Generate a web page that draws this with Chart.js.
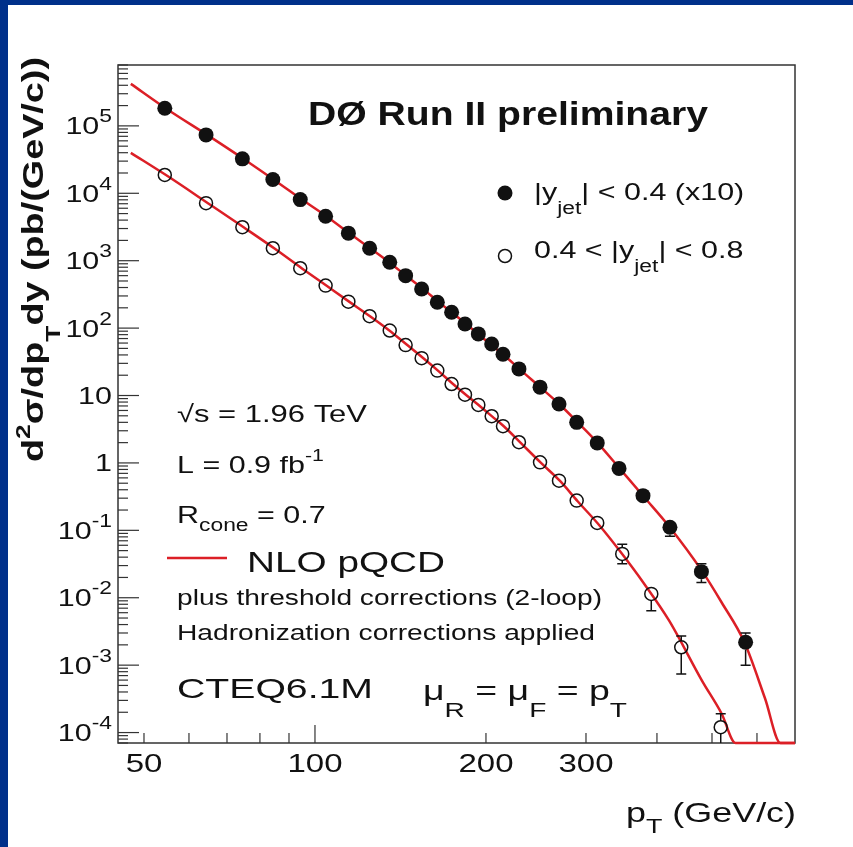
<!DOCTYPE html>
<html>
<head>
<meta charset="utf-8">
<script src="https://cdn.jsdelivr.net/npm/chart.js@4.4.1/dist/chart.umd.min.js"></script>
<style>
    html, body { margin: 0; padding: 0; background: #ffffff; }
    canvas { display: block; }
</style>
</head>
<body>
<canvas id="jetChart" width="853" height="847"></canvas>
<script>

/* ==========================================
        DATA
========================================== */

// |y_jet| < 0.4 (multiplied by 10)
const centralPt = [54.4, 64.3, 74.5, 84.3, 94.2, 104.4, 114.5, 124.8, 135.4, 144.4, 154.1, 164.2, 174.0, 183.7, 193.9, 204.7, 214.3, 228.6, 249.0, 268.9, 288.9, 314.0, 343.0, 378.0, 421.6, 479.0, 573.0];
const centralXsec = [1.83e5, 7.35e4, 3.24e4, 1.6e4, 8.06e3, 4.57e3, 2.56e3, 1.53e3, 950, 600, 380, 242, 172, 115, 82, 58, 41, 24.8, 13.3, 7.5, 4.0, 1.98, 0.83, 0.327, 0.111, 0.0244, 0.00219];
const centralErrLo = [null, null, null, null, null, null, null, null, null, null, null, null, null, null, null, null, null, null, null, null, null, null, null, null, 0.082, 0.0168, 0.0010];
const centralErrHi = [null, null, null, null, null, null, null, null, null, null, null, null, null, null, null, null, null, null, null, null, null, null, null, null, 0.14, 0.032, 0.0030];

// 0.4 < |y_jet| < 0.8
const forwardPt = [54.4, 64.3, 74.5, 84.3, 94.2, 104.4, 114.5, 124.8, 135.4, 144.4, 154.1, 164.2, 174.0, 183.7, 193.9, 204.7, 214.3, 228.6, 249.0, 268.9, 288.9, 314.0, 347.5, 390.9, 441.4, 518.0];
const forwardXsec = [1.87e4, 7.13e3, 3.14e3, 1.53e3, 774, 427, 247, 150, 92, 56, 35.8, 23.4, 14.8, 10.3, 7.26, 4.93, 3.51, 2.03, 1.02, 0.546, 0.276, 0.129, 0.0447, 0.0114, 0.00184, 1.2e-4];
const forwardErrLo = [null, null, null, null, null, null, null, null, null, null, null, null, null, null, null, null, null, null, null, null, null, null, 0.032, 0.0064, 0.00074, 3e-5];
const forwardErrHi = [null, null, null, null, null, null, null, null, null, null, null, null, null, null, null, null, null, null, null, null, null, null, 0.062, 0.0140, 0.0027, 1.9e-4];

// NLO pQCD curves
const nloCentralPt = [47.4, 55, 65, 75, 85, 95, 105, 115, 125, 135, 145, 155, 165, 175, 185, 195, 205, 215, 230, 250, 270, 290, 315, 345, 380, 420, 480, 520, 570, 620, 660, 700];
const nloCentralXsec = [4.2e5, 1.75e5, 7.1e4, 3.2e4, 1.55e4, 8.0e3, 4.5e3, 2.55e3, 1.53e3, 950, 590, 380, 245, 165, 113, 78, 55, 40, 24, 13, 7.3, 4.0, 1.95, 0.80, 0.31, 0.115, 0.025, 0.0085, 0.0022, 3.2e-4, 7e-5, 7e-5];
const nloForwardPt = [47.4, 55, 65, 75, 85, 95, 105, 115, 125, 135, 145, 155, 165, 175, 185, 195, 205, 215, 230, 250, 270, 290, 315, 345, 380, 420, 480, 520, 550, 700];
const nloForwardXsec = [3.98e4, 1.8e4, 7.0e3, 3.1e3, 1.5e3, 760, 420, 245, 150, 93, 57, 36, 23, 14.8, 10, 7.0, 4.9, 3.5, 2.0, 1.0, 0.54, 0.27, 0.125, 0.048, 0.016, 0.0046, 5.9e-4, 1.9e-4, 7e-5, 7e-5];

// axes
const xRange = [45, 700];
const yRange = [7e-5, 8e5];
const xTickValues = [50, 100, 200, 300];
const xTickLabels = ["50", "100", "200", "300"];
const xMinorTicks = [50, 60, 70, 80, 90, 200, 300, 400, 500, 600];
const yTickValues = [1e-4, 1e-3, 1e-2, 1e-1, 1, 10, 1e2, 1e3, 1e4, 1e5];
const yTickLabels = [["10", "-4"], ["10", "-3"], ["10", "-2"], ["10", "-1"], ["1", ""], ["10", ""], ["10", "2"], ["10", "3"], ["10", "4"], ["10", "5"]];

/* ==========================================
        STYLE
========================================== */

const RED = "#dc1f26";
const INK = "#111111";
const FONT = '"Liberation Sans", Arial, Helvetica, sans-serif';
const STRETCH = 1.27;

function toPoints(xs, ys) {
    return xs.map((x, i) => ({ x: x, y: ys[i] }));
}

/* ==========================================
        RICH TEXT
========================================== */

// parts: [text, scale, dy(em)]
function richWidth(ctx, parts, size, bold) {
    let w = 0;
    parts.forEach(p => {
        const s = p[1] || 1;
        ctx.font = (bold ? "bold " : "") + (size * s) + "px " + FONT;
        w += ctx.measureText(p[0]).width;
    });
    return w;
}

function drawRich(ctx, parts, x, y, size, opts) {
    opts = opts || {};
    const bold = !!opts.bold;
    const natural = richWidth(ctx, parts, size, bold);
    const sx = opts.width ? opts.width / natural : (opts.sx || 1);
    const total = natural * sx;
    ctx.save();
    ctx.translate(x, y);
    if (opts.rotate) ctx.rotate(opts.rotate);
    if (opts.align === "right") ctx.translate(-total, 0);
    if (opts.align === "center") ctx.translate(-total / 2, 0);
    ctx.scale(sx, 1);
    ctx.fillStyle = opts.color || INK;
    ctx.textBaseline = "alphabetic";
    ctx.textAlign = "left";
    let cx = 0;
    parts.forEach(p => {
        const s = p[1] || 1;
        const dy = (p[2] || 0) * size;
        ctx.font = (bold ? "bold " : "") + (size * s) + "px " + FONT;
        ctx.fillText(p[0], cx, dy);
        cx += ctx.measureText(p[0]).width;
    });
    ctx.restore();
    return total;
}

/* ==========================================
        FRAME / AXES / TEXT PLUGIN
========================================== */

const framePlugin = {

    id: "frame",

    beforeDraw(chart) {
        const ctx = chart.ctx;
        ctx.save();
        ctx.fillStyle = "#ffffff";
        ctx.fillRect(0, 0, chart.width, chart.height);
        ctx.fillStyle = "#00308a";
        ctx.fillRect(0, 0, chart.width, 5);
        ctx.fillRect(0, 0, 8, chart.height);
        ctx.restore();
    },

    beforeDatasetsDraw(chart) {
        const ctx = chart.ctx;
        const area = chart.chartArea;
        const xs = chart.scales.x;
        const ys = chart.scales.y;

        ctx.save();
        ctx.strokeStyle = "#333333";
        ctx.lineWidth = 1.5;
        ctx.strokeRect(area.left, area.top, area.right - area.left, area.bottom - area.top);

        // y ticks
        ctx.lineWidth = 1.2;
        for (let d = -5; d <= 6; d++) {
            for (let k = 1; k <= 9; k++) {
                const v = k * Math.pow(10, d);
                if (v < yRange[0] || v > yRange[1]) continue;
                const py = ys.getPixelForValue(v);
                const len = k === 1 ? 21 : 10;
                ctx.beginPath();
                ctx.moveTo(area.left, py);
                ctx.lineTo(area.left + len, py);
                ctx.stroke();
            }
        }

        // x ticks
        xMinorTicks.concat([100]).forEach(v => {
            const px = xs.getPixelForValue(v);
            const len = v === 100 ? 18 : 10;
            ctx.beginPath();
            ctx.moveTo(px, area.bottom);
            ctx.lineTo(px, area.bottom - len);
            ctx.stroke();
        });
        ctx.restore();

        // y tick labels
        yTickValues.forEach((v, i) => {
            const py = ys.getPixelForValue(v);
            const lab = yTickLabels[i];
            const parts = [[lab[0]]];
            if (lab[1]) parts.push([lab[1], 0.75, -0.5]);
            drawRich(ctx, parts, 112, py + 8.5, 24, { sx: STRETCH, align: "right" });
        });

        // x tick labels
        xTickValues.forEach((v, i) => {
            const px = xs.getPixelForValue(v);
            drawRich(ctx, [[xTickLabels[i]]], px, 772, 26, { sx: STRETCH, align: "center" });
        });

        // axis titles
        drawRich(ctx, [["p"], ["T", 0.75, 0.38], [" (GeV/c)"]], 796, 822, 28, { width: 170, align: "right" });
        drawRich(ctx,
            [["d"], ["2", 0.7, -0.45], ["\u03c3/dp"], ["T", 0.7, 0.55], ["dy (pb/(GeV/c))"]],
            43, 462, 30, { bold: true, rotate: -Math.PI / 2, width: 405 });

        // header
        drawRich(ctx, [["D\u00d8 Run II preliminary"]], 308, 125, 34, { bold: true, width: 400 });

        // run conditions
        drawRich(ctx, [["\u221as = 1.96 TeV"]], 177, 422, 24, { width: 190 });
        drawRich(ctx, [["L = 0.9 fb"], ["-1", 0.7, -0.5]], 177, 473, 24, { sx: STRETCH });
        drawRich(ctx, [["R"], ["cone", 0.75, 0.35], [" = 0.7"]], 177, 523, 24, { sx: STRETCH });

        // theory legend
        ctx.save();
        ctx.strokeStyle = RED;
        ctx.lineWidth = 2.5;
        ctx.beginPath();
        ctx.moveTo(167, 558);
        ctx.lineTo(227, 558);
        ctx.stroke();
        ctx.restore();
        drawRich(ctx, [["NLO pQCD"]], 247, 572, 30, { width: 198 });
        drawRich(ctx, [["plus threshold corrections (2-loop)"]], 177, 605, 22, { width: 425 });
        drawRich(ctx, [["Hadronization corrections applied"]], 177, 640, 22, { width: 418 });
        drawRich(ctx, [["CTEQ6.1M"]], 177, 698, 28, { width: 196 });
        drawRich(ctx,
            [["\u03bc"], ["R", 0.75, 0.6], [" = \u03bc"], ["F", 0.75, 0.6], [" = p"], ["T", 0.75, 0.6]],
            423, 700, 28, { width: 204 });

        // data legend
        drawRich(ctx, [["|y"], ["jet", 0.75, 0.6], ["| < 0.4 (x10)"]], 534, 200, 24, { sx: STRETCH });
        drawRich(ctx, [["0.4 < |y"], ["jet", 0.75, 0.6], ["| < 0.8"]], 534, 258, 24, { sx: STRETCH });
    },

    afterDatasetsDraw(chart) {
        const ctx = chart.ctx;
        const xs = chart.scales.x;
        const ys = chart.scales.y;
        const area = chart.chartArea;

        function bars(pts, vals, lo, hi, r) {
            pts.forEach((x, i) => {
                const px = xs.getPixelForValue(x);
                const py = ys.getPixelForValue(vals[i]);
                [[lo[i], 1], [hi[i], -1]].forEach(e => {
                    if (e[0] === null) return;
                    let pe = ys.getPixelForValue(e[0]);
                    const cap = pe < area.bottom;
                    pe = Math.min(pe, area.bottom);
                    const start = py + e[1] * r;
                    if ((pe - start) * e[1] <= 0) return;
                    ctx.beginPath();
                    ctx.moveTo(px, start);
                    ctx.lineTo(px, pe);
                    if (cap) {
                        ctx.moveTo(px - 5, pe);
                        ctx.lineTo(px + 5, pe);
                    }
                    ctx.stroke();
                });
            });
        }

        ctx.save();
        ctx.strokeStyle = INK;
        ctx.lineWidth = 1.5;
        bars(centralPt, centralXsec, centralErrLo, centralErrHi, 7.5);
        bars(forwardPt, forwardXsec, forwardErrLo, forwardErrHi, 6.5);

        // legend markers
        ctx.fillStyle = INK;
        ctx.beginPath();
        ctx.arc(505, 193, 7.5, 0, Math.PI * 2);
        ctx.fill();
        ctx.beginPath();
        ctx.arc(505, 256, 6.5, 0, Math.PI * 2);
        ctx.stroke();
        ctx.restore();
    }
};

/* ==========================================
        CREATE CHART
========================================== */

const ctx = document.getElementById("jetChart").getContext("2d");

new Chart(ctx, {

    type: "scatter",

    data: {
        datasets: [
            {
                label: "|y_jet| < 0.4 (x10)",
                data: toPoints(centralPt, centralXsec),
                pointStyle: "circle",
                pointRadius: 7.5,
                pointBackgroundColor: INK,
                pointBorderColor: INK,
                pointBorderWidth: 0,
                showLine: false
            },
            {
                label: "0.4 < |y_jet| < 0.8",
                data: toPoints(forwardPt, forwardXsec),
                pointStyle: "circle",
                pointRadius: 6.5,
                pointBackgroundColor: "rgba(0,0,0,0)",
                pointBorderColor: INK,
                pointBorderWidth: 1.5,
                showLine: false
            },
            {
                label: "NLO pQCD |y| < 0.4",
                data: toPoints(nloCentralPt, nloCentralXsec),
                showLine: true,
                borderColor: RED,
                borderWidth: 2.5,
                pointRadius: 0,
                cubicInterpolationMode: "monotone",
                clip: { left: 0, top: 0, right: 0, bottom: 2 }
            },
            {
                label: "NLO pQCD 0.4 < |y| < 0.8",
                data: toPoints(nloForwardPt, nloForwardXsec),
                showLine: true,
                borderColor: RED,
                borderWidth: 2.5,
                pointRadius: 0,
                cubicInterpolationMode: "monotone",
                clip: { left: 0, top: 0, right: 0, bottom: 2 }
            }
        ]
    },

    options: {
        responsive: false,
        animation: false,
        devicePixelRatio: 1,
        layout: {
            padding: { left: 118, top: 65, right: 58, bottom: 104 }
        },
        plugins: {
            legend: { display: false },
            tooltip: { enabled: false }
        },
        scales: {
            x: {
                type: "logarithmic",
                min: xRange[0],
                max: xRange[1],
                display: false
            },
            y: {
                type: "logarithmic",
                min: yRange[0],
                max: yRange[1],
                display: false
            }
        }
    },

    plugins: [framePlugin]

});

</script>
</body>
</html>
